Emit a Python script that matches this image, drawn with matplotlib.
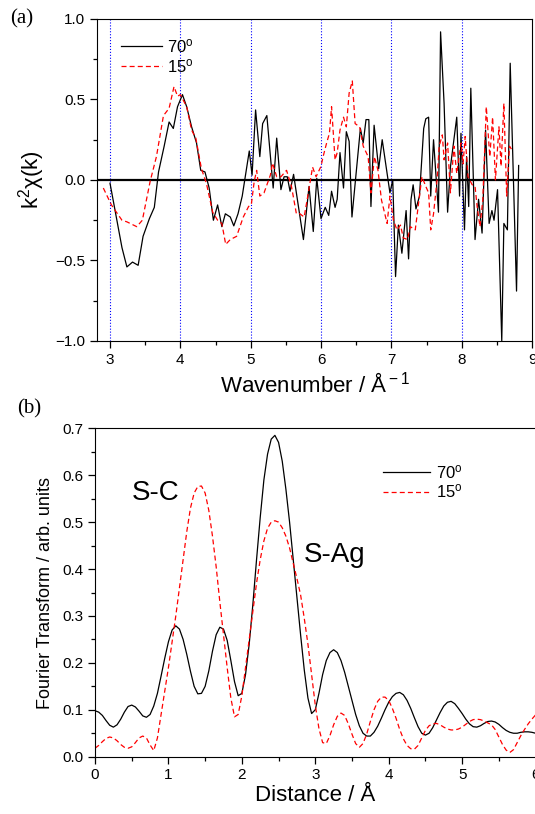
import matplotlib
matplotlib.use("Agg")
import matplotlib.pyplot as plt
from matplotlib.ticker import MultipleLocator

plt.rcParams["font.family"] = ["Liberation Sans", "DejaVu Sans"]
plt.rcParams["mathtext.fontset"] = "custom"
plt.rcParams["mathtext.rm"] = "Liberation Sans"
plt.rcParams["mathtext.it"] = "Liberation Sans:italic"

# (a) k^2 chi(k), 70 deg
k70 = [3.00, 3.17, 3.24, 3.32, 3.40, 3.47, 3.56, 3.63, 3.69, 3.77, 3.84, 3.90, 3.96,
       4.03, 4.09, 4.16, 4.23, 4.29, 4.35, 4.41, 4.47, 4.53, 4.59, 4.64, 4.71, 4.76,
       4.82, 4.88, 4.93, 4.98, 5.02, 5.07, 5.13, 5.17, 5.23, 5.32, 5.37, 5.43, 5.475,
       5.52, 5.56, 5.61, 5.75, 5.83, 5.89, 5.94, 6.00, 6.06, 6.11, 6.15, 6.20, 6.23,
       6.27, 6.32, 6.36, 6.40, 6.44, 6.56, 6.60, 6.64, 6.68, 6.71, 6.755, 6.82, 6.87,
       6.98, 7.02, 7.06, 7.10, 7.15, 7.21, 7.245, 7.28, 7.31, 7.35, 7.40, 7.46, 7.49,
       7.53, 7.56, 7.60, 7.67, 7.70, 7.75, 7.80, 7.84, 7.93, 7.97, 7.99, 8.04, 8.07,
       8.10, 8.13, 8.19, 8.24, 8.29, 8.34, 8.39, 8.43, 8.46, 8.51, 8.57, 8.60, 8.65,
       8.69, 8.78, 8.81]
chi70 = [-0.02, -0.42, -0.54, -0.51, -0.53, -0.35, -0.24, -0.17, 0.05, 0.21, 0.36, 0.32, 0.455,
         0.53, 0.455, 0.33, 0.23, 0.06, 0.05, -0.05, -0.25, -0.155, -0.29, -0.21, -0.23, -0.285,
         -0.21, -0.10, 0.04, 0.18, 0.03, 0.435, 0.145, 0.35, 0.40, -0.05, 0.26, -0.06, 0.02,
         0.02, -0.07, 0.035, -0.37, -0.04, -0.32, 0.01, -0.24, -0.17, -0.22, -0.07, -0.17, -0.12,
         0.17, -0.05, 0.30, 0.24, -0.23, 0.32, 0.23, 0.375, 0.375, -0.165, 0.34, 0.07, 0.25,
         -0.08, 0.0, -0.60, -0.28, -0.455, -0.19, -0.49, -0.12, -0.03, -0.18, -0.10, 0.32, 0.38,
         0.39, -0.10, 0.25, -0.20, 0.92, 0.475, -0.20, 0.08, 0.39, -0.10, 0.29, -0.31, 0.145,
         -0.165, 0.57, -0.37, -0.12, -0.33, 0.31, -0.27, -0.19, -0.25, -0.06, -1.0, -0.27, -0.31,
         0.725, -0.69, 0.09]

# (a) k^2 chi(k), 15 deg
k15 = [2.905, 3.02, 3.17, 3.24, 3.38, 3.46, 3.57, 3.66, 3.76, 3.84, 3.91, 3.96, 4.00,
       4.09, 4.16, 4.22, 4.30, 4.37, 4.46, 4.53, 4.59, 4.645, 4.71, 4.80, 4.895, 4.97,
       5.01, 5.05, 5.085, 5.13, 5.19, 5.28, 5.31, 5.37, 5.43, 5.51, 5.58, 5.65, 5.70,
       5.76, 5.82, 5.88, 5.93, 6.00, 6.03, 6.08, 6.12, 6.15, 6.20, 6.23, 6.27, 6.32,
       6.36, 6.40, 6.445, 6.485, 6.55, 6.60, 6.67, 6.71, 6.76, 6.81, 6.86, 6.94, 6.98,
       7.03, 7.08, 7.13, 7.17, 7.23, 7.27, 7.34, 7.40, 7.435, 7.49, 7.53, 7.56, 7.60,
       7.65, 7.68, 7.725, 7.75, 7.80, 7.84, 7.89, 7.93, 7.99, 8.02, 8.05, 8.09, 8.15,
       8.19, 8.22, 8.26, 8.30, 8.35, 8.40, 8.44, 8.48, 8.53, 8.56, 8.60, 8.64, 8.68,
       8.71]
chi15 = [-0.05, -0.155, -0.25, -0.26, -0.29, -0.25, -0.01, 0.145, 0.40, 0.445, 0.58, 0.52, 0.53,
         0.455, 0.31, 0.26, 0.07, -0.02, -0.20, -0.25, -0.27, -0.40, -0.37, -0.35, -0.23, -0.165,
         -0.15, -0.01, 0.06, -0.10, -0.08, 0.03, 0.105, 0.02, 0.02, 0.06, -0.04, -0.21, -0.21,
         -0.23, -0.08, 0.08, 0.02, 0.085, 0.145, 0.23, 0.29, 0.455, 0.125, 0.17, 0.31, 0.39,
         0.33, 0.54, 0.615, 0.35, 0.33, 0.21, 0.145, -0.08, 0.145, 0.06, -0.125, -0.27, -0.10,
         -0.25, -0.31, -0.28, -0.36, -0.37, -0.29, -0.31, -0.10, 0.02, -0.04, -0.08, -0.31, -0.21,
         0.0, 0.21, 0.28, 0.125, 0.23, -0.08, 0.21, 0.04, 0.23, 0.10, 0.27, 0.02, -0.03,
         -0.04, -0.165, -0.29, -0.125, 0.455, 0.145, 0.39, 0.0, 0.33, 0.085, 0.475, -0.10, 0.21,
         0.19]

# (b) Fourier transform, distance steps of 0.05 A
r = [i * 0.05 for i in range(121)]
ft70 = [0.098, 0.095, 0.088, 0.077, 0.067, 0.063, 0.068, 0.080, 0.095, 0.107,
        0.110, 0.106, 0.097, 0.087, 0.084, 0.090, 0.108, 0.135, 0.172, 0.210,
        0.245, 0.270, 0.279, 0.272, 0.250, 0.218, 0.182, 0.150, 0.134, 0.135,
        0.150, 0.183, 0.225, 0.260, 0.276, 0.272, 0.248, 0.205, 0.160, 0.130,
        0.135, 0.175, 0.240, 0.325, 0.420, 0.510, 0.590, 0.645, 0.677, 0.685,
        0.670, 0.630, 0.570, 0.500, 0.420, 0.340, 0.260, 0.185, 0.125, 0.092,
        0.100, 0.135, 0.175, 0.205, 0.222, 0.228, 0.222, 0.205, 0.180, 0.150,
        0.120, 0.090, 0.066, 0.050, 0.044, 0.044, 0.052, 0.065, 0.082, 0.100,
        0.116, 0.128, 0.135, 0.137, 0.132, 0.120, 0.103, 0.083, 0.064, 0.050,
        0.046, 0.050, 0.062, 0.078, 0.094, 0.108, 0.116, 0.118, 0.113, 0.103,
        0.092, 0.080, 0.070, 0.064, 0.063, 0.066, 0.071, 0.075, 0.076, 0.074,
        0.069, 0.062, 0.056, 0.052, 0.050, 0.050, 0.052, 0.053, 0.053, 0.052,
        0.050]
ft15 = [0.018, 0.024, 0.032, 0.039, 0.042, 0.040, 0.034, 0.026, 0.020, 0.018,
        0.021, 0.030, 0.040, 0.044, 0.040, 0.025, 0.013, 0.040, 0.090, 0.140,
        0.190, 0.245, 0.300, 0.360, 0.420, 0.480, 0.530, 0.562, 0.576, 0.577,
        0.562, 0.525, 0.470, 0.405, 0.330, 0.260, 0.190, 0.125, 0.085, 0.090,
        0.130, 0.190, 0.250, 0.310, 0.370, 0.420, 0.460, 0.487, 0.500, 0.503,
        0.500, 0.488, 0.470, 0.445, 0.412, 0.380, 0.345, 0.295, 0.240, 0.175,
        0.110, 0.060, 0.030, 0.028, 0.045, 0.068, 0.086, 0.093, 0.088, 0.070,
        0.048, 0.028, 0.020, 0.028, 0.048, 0.075, 0.100, 0.118, 0.127, 0.127,
        0.120, 0.103, 0.082, 0.058, 0.038, 0.024, 0.017, 0.016, 0.024, 0.040,
        0.056, 0.066, 0.070, 0.071, 0.068, 0.063, 0.059, 0.057, 0.057, 0.059,
        0.063, 0.069, 0.075, 0.079, 0.080, 0.079, 0.076, 0.072, 0.068, 0.058,
        0.042, 0.026, 0.014, 0.009, 0.015, 0.030, 0.045, 0.058, 0.070, 0.080,
        0.089]

fig = plt.figure(figsize=(5.35, 8.14), dpi=100)
ax1 = fig.add_axes([0.1813, 0.5811, 0.8131, 0.3956])
ax2 = fig.add_axes([0.1776, 0.0704, 0.8234, 0.4034])

for kv in [3, 4, 5, 6, 7, 8]:
    ax1.axvline(kv, color="blue", ls=":", lw=0.8, zorder=1)
ax1.axhline(0, color="black", lw=1.6, zorder=2)
ax1.plot(k70, chi70, color="black", lw=0.9, label="70$^{\\rm o}$", zorder=3)
ax1.plot(k15, chi15, color="red", lw=0.9, dashes=(4, 2.5), label="15$^{\\rm o}$", zorder=4)
ax1.set_xlim(2.815, 9)
ax1.set_ylim(-1.0, 1.0)
ax1.xaxis.set_major_locator(MultipleLocator(1))
ax1.xaxis.set_minor_locator(MultipleLocator(0.5))
ax1.yaxis.set_major_locator(MultipleLocator(0.5))
ax1.yaxis.set_minor_locator(MultipleLocator(0.25))
ax1.set_xlabel("Wavenumber / Å$^{\\rm -1}$", fontsize=16, labelpad=4)
ax1.set_ylabel("k$^{\\rm 2}$χ(k)", fontsize=16, labelpad=6)
ax1.legend(loc="upper left", bbox_to_anchor=(0.02, 0.99), frameon=False,
           fontsize=12, handlelength=2.5, handletextpad=0.3, labelspacing=0.1)

ax2.plot(r, ft70, color="black", lw=0.9, label="70$^{\\rm o}$")
ax2.plot(r, ft15, color="red", lw=0.9, dashes=(4, 2.5), label="15$^{\\rm o}$")
ax2.set_xlim(0, 6)
ax2.set_ylim(0, 0.7)
ax2.xaxis.set_major_locator(MultipleLocator(1))
ax2.xaxis.set_minor_locator(MultipleLocator(0.5))
ax2.yaxis.set_major_locator(MultipleLocator(0.1))
ax2.yaxis.set_minor_locator(MultipleLocator(0.05))
ax2.set_xlabel("Distance / Å", fontsize=16, labelpad=2)
ax2.set_ylabel("Fourier Transform / arb. units", fontsize=13, labelpad=6)
ax2.legend(loc="upper left", bbox_to_anchor=(0.62, 0.94), frameon=False,
           fontsize=12, handlelength=2.8, handletextpad=0.4, labelspacing=0.1)
ax2.text(0.5, 0.548, "S-C", fontsize=20)
ax2.text(2.85, 0.414, "S-Ag", fontsize=20)

for ax in (ax1, ax2):
    ax.tick_params(which="both", direction="out", top=False, right=False, labelsize=11)
    ax.tick_params(which="major", length=5, width=0.9)
    ax.tick_params(which="minor", length=3, width=0.9)

fig.text(0.018, 0.977, "(a)", fontsize=15, family=["Liberation Serif"], va="center")
fig.text(0.032, 0.498, "(b)", fontsize=15, family=["Liberation Serif"], va="center")

fig.savefig("out.png", dpi=100)
